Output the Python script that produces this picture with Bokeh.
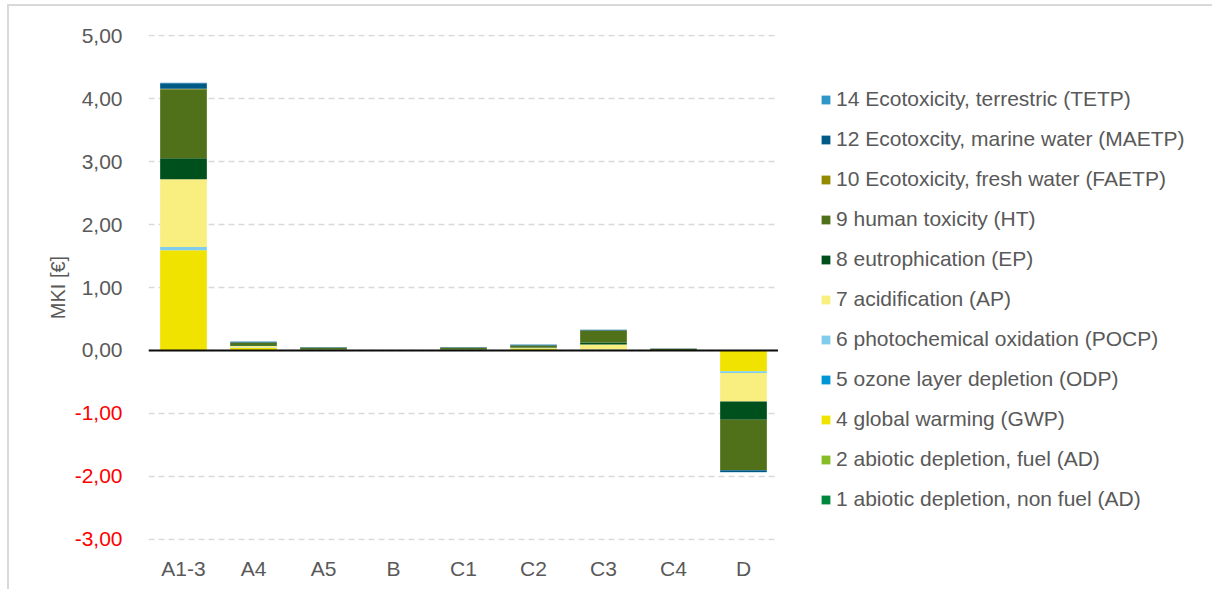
import math
from bokeh.plotting import figure
from bokeh.layouts import row, column
from bokeh.models import (ColumnDataSource, FactorRange, Range1d, FixedTicker,
                          Legend, LegendItem, Span, Spacer)
from bokeh.core.properties import value
from bokeh.embed import file_html
from bokeh.resources import INLINE

categories = ["A1-3", "A4", "A5", "B", "C1", "C2", "C3", "C4", "D"]

# series, bottom of stack first
ad_nonfuel = [0.0, 0.0, 0.0, 0.0, 0.0, 0.0, 0.0, 0.0, 0.0]
ad_fuel    = [0.0, 0.0, 0.0, 0.0, 0.0, 0.0, 0.0, 0.0, 0.0]
gwp        = [1.59, 0.04, 0.005, 0.0, 0.005, 0.03, 0.01, 0.0, -0.33]
odp        = [0.002, 0.0, 0.0, 0.0, 0.0, 0.0, 0.0, 0.0, 0.0]
pocp       = [0.05, 0.005, 0.002, 0.0, 0.002, 0.004, 0.005, 0.001, -0.03]
ap         = [1.08, 0.03, 0.005, 0.0, 0.005, 0.01, 0.08, 0.003, -0.45]
ep         = [0.33, 0.01, 0.003, 0.0, 0.003, 0.005, 0.03, 0.002, -0.29]
ht         = [1.10, 0.04, 0.03, 0.0, 0.03, 0.03, 0.19, 0.02, -0.80]
faetp      = [0.005, 0.002, 0.001, 0.0, 0.001, 0.001, 0.002, 0.001, -0.003]
maetp      = [0.09, 0.01, 0.005, 0.0, 0.005, 0.01, 0.01, 0.003, -0.03]
tetp       = [0.005, 0.005, 0.002, 0.0, 0.002, 0.003, 0.003, 0.001, -0.003]

series_keys = ["ad_nonfuel", "ad_fuel", "gwp", "odp", "pocp", "ap", "ep",
               "ht", "faetp", "maetp", "tetp"]
series_labels = [
    "1 abiotic depletion, non fuel (AD)",
    "2 abiotic depletion, fuel (AD)",
    "4 global warming (GWP)",
    "5 ozone layer depletion (ODP)",
    "6 photochemical oxidation (POCP)",
    "7 acidification (AP)",
    "8 eutrophication (EP)",
    "9 human toxicity (HT)",
    "10 Ecotoxicity, fresh water (FAETP)",
    "12 Ecotoxcity, marine water (MAETP)",
    "14 Ecotoxicity, terrestric (TETP)",
]
series_colors = ["#00893D", "#86BC25", "#F0E300", "#0096D6", "#80CCEA",
                 "#F9EE80", "#00501E", "#507119", "#948A00", "#005A87",
                 "#2F96C8"]

y_ticks = [5, 4, 3, 2, 1, 0, -1, -2, -3]
y_tick_labels = ["5,00", "4,00", "3,00", "2,00", "1,00", "0,00",
                 "-1,00", "-2,00", "-3,00"]
y_tick_colors = ["#595959"] * 6 + ["#FF0000"] * 3
y_title = "MKI [€]"

FONT = "Liberation Sans"
TXT = "#595959"
FS = "21px"

OFF_X, OFF_Y = 7, 4          # outer offset of the chart border
TOTAL_W = 1216 - OFF_X - 4
H = 583
TOP = 28
FRAME_H = 506
BOTTOM = H - TOP - FRAME_H
LEFT_W = 139
FRAME_W = 630
RIGHT_W = TOTAL_W - LEFT_W - FRAME_W
Y0, Y1 = -3.02, 5.02
unit = FRAME_H / (Y1 - Y0)

yr = Range1d(Y0, Y1)

source = ColumnDataSource(dict(
    cat=categories, ad_nonfuel=ad_nonfuel, ad_fuel=ad_fuel, gwp=gwp, odp=odp,
    pocp=pocp, ap=ap, ep=ep, ht=ht, faetp=faetp, maetp=maetp, tetp=tetp))


def bare(fig):
    fig.frame_align = False
    fig.axis.visible = False
    fig.grid.visible = False
    fig.outline_line_color = None


# ---- left strip: y tick labels and title ----
left = figure(width=LEFT_W, height=H, x_range=Range1d(0, LEFT_W),
              y_range=Range1d(Y0 - BOTTOM / unit, Y1 + TOP / unit),
              output_backend="svg", toolbar_location=None,
              min_border_left=0, min_border_right=0, min_border_top=0,
              min_border_bottom=0)
bare(left)
tick_src = ColumnDataSource(dict(y=y_ticks, t=y_tick_labels, c=y_tick_colors,
                                 x=[113] * len(y_ticks)))
left.text(x="x", y="y", text="t", source=tick_src, text_color="c",
          text_align="right", text_baseline="middle", text_font=value(FONT),
          text_font_size=FS)
left.text(x=[48], y=[1.0], text=[y_title], angle=math.pi / 2,
          text_align="center", text_baseline="middle", text_color=TXT,
          text_font=value(FONT), text_font_size="20px")

# ---- main chart ----
p = figure(width=FRAME_W, height=H, x_range=FactorRange(*categories),
           y_range=yr, output_backend="svg", toolbar_location=None,
           min_border_left=0, min_border_right=0,
           min_border_top=TOP, min_border_bottom=BOTTOM)
p.frame_align = False
p.outline_line_color = None

p.vbar_stack(series_keys, x="cat", width=0.667, color=series_colors,
             source=source, line_color=None)

p.xgrid.grid_line_color = None
p.ygrid.ticker = FixedTicker(ticks=y_ticks)
p.ygrid.grid_line_color = "#D9D9D9"
p.ygrid.grid_line_width = 1.5
p.ygrid.grid_line_dash = "6 4"

p.add_layout(Span(location=0, dimension="width", line_color="#0d0d0d",
                  line_width=2))

p.yaxis.visible = False
p.xaxis.axis_line_color = None
p.xaxis.major_tick_line_color = None
p.xaxis.minor_tick_line_color = None
p.xaxis.major_tick_out = 0
p.xaxis.major_tick_in = 0
p.xaxis.major_label_standoff = 16
p.xaxis.major_label_text_font = FONT
p.xaxis.major_label_text_font_size = FS
p.xaxis.major_label_text_color = TXT

# ---- right strip: legend (its swatch renderers lie outside its view) ----
right = figure(width=RIGHT_W, height=H, x_range=FactorRange(*categories),
               y_range=Range1d(1000, 1001), output_backend="svg",
               toolbar_location=None, min_border_left=0, min_border_right=0,
               min_border_top=0, min_border_bottom=0)
bare(right)
swatches = right.vbar_stack(series_keys, x="cat", width=0.667,
                            color=series_colors, source=source, line_color=None)
items = [LegendItem(label=lab, renderers=[r])
         for lab, r in zip(series_labels[::-1], swatches[::-1])]
legend = Legend(items=items, location=(42, 78), border_line_color=None,
                background_fill_alpha=0, padding=0, margin=0, spacing=16,
                glyph_width=11, glyph_height=11, label_standoff=5,
                label_text_font=FONT, label_text_font_size=FS,
                label_text_color=TXT, label_height=20)
right.add_layout(legend)

inner = row(left, p, right, width=TOTAL_W,
            styles={"border-left": "2px solid #D9D9D9",
                    "border-top": "2px solid #D9D9D9"})
layout = column(Spacer(height=OFF_Y), row(Spacer(width=OFF_X), inner))

open("out.html", "w").write(file_html(layout, INLINE))
